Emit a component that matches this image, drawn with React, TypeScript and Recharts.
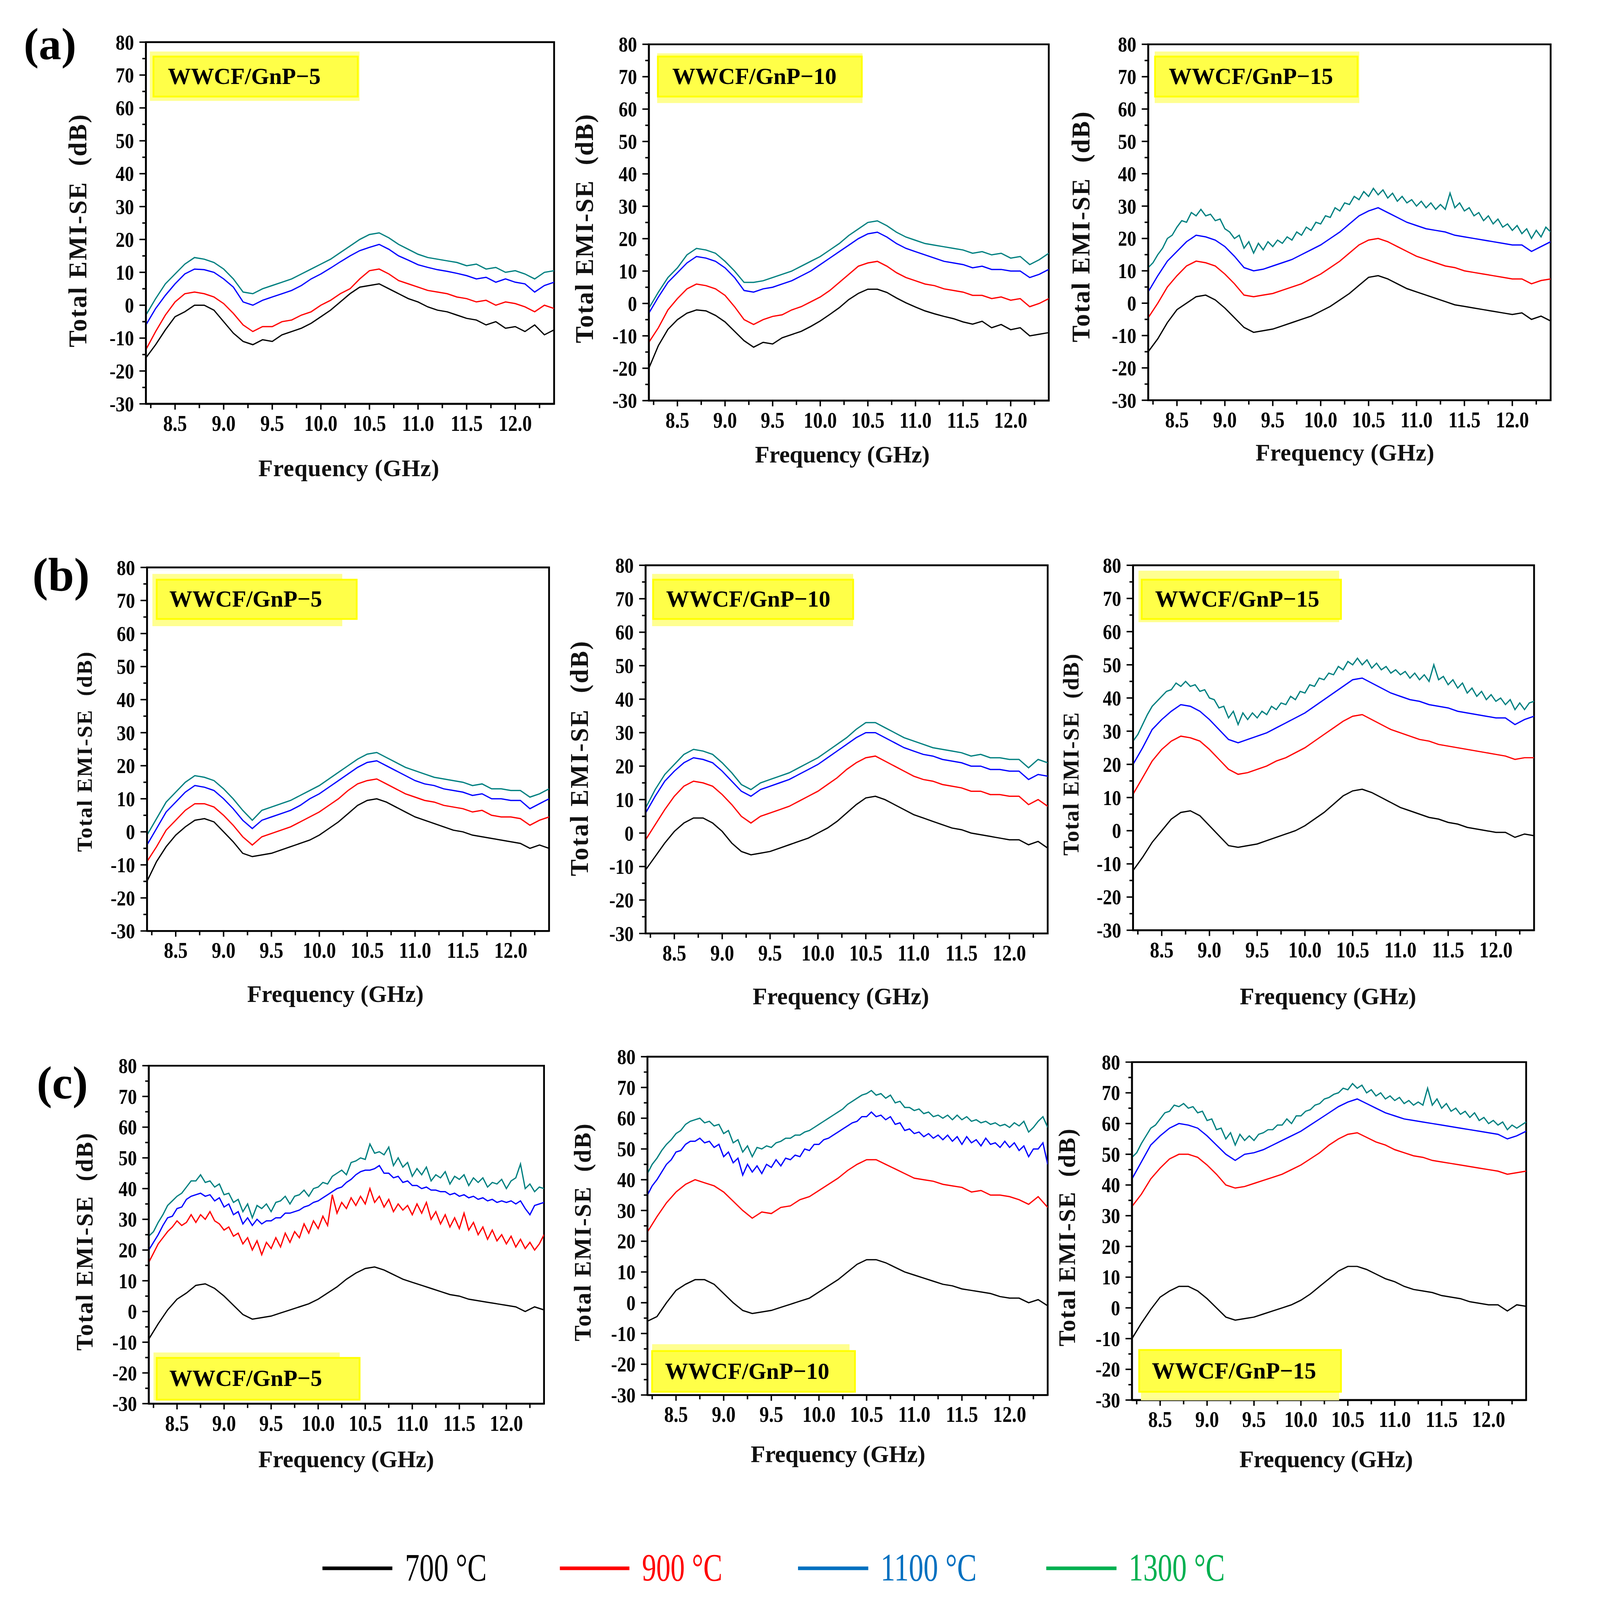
import React from "react";
import { LineChart, Line, XAxis, YAxis, ReferenceArea } from "recharts";

// frequency grids (GHz): coarse for the calm traces, fine for the noisy ones
const freq = [8.2, 8.3, 8.4, 8.5, 8.6, 8.7, 8.8, 8.9, 9.0, 9.1, 9.2, 9.3, 9.4, 9.5, 9.6, 9.7, 9.8, 9.9, 10.0, 10.1, 10.2, 10.3, 10.4, 10.5, 10.6, 10.7, 10.8, 10.9, 11.0, 11.1, 11.2, 11.3, 11.4, 11.5, 11.6, 11.7, 11.8, 11.9, 12.0, 12.1, 12.2, 12.3, 12.4];
const freqFine = [
  8.2, 8.25, 8.3, 8.35, 8.4, 8.45, 8.5, 8.55, 8.6, 8.65,
  8.7, 8.75, 8.8, 8.85, 8.9, 8.95, 9.0, 9.05, 9.1, 9.15,
  9.2, 9.25, 9.3, 9.35, 9.4, 9.45, 9.5, 9.55, 9.6, 9.65,
  9.7, 9.75, 9.8, 9.85, 9.9, 9.95, 10.0, 10.05, 10.1, 10.15,
  10.2, 10.25, 10.3, 10.35, 10.4, 10.45, 10.5, 10.55, 10.6, 10.65,
  10.7, 10.75, 10.8, 10.85, 10.9, 10.95, 11.0, 11.05, 11.1, 11.15,
  11.2, 11.25, 11.3, 11.35, 11.4, 11.45, 11.5, 11.55, 11.6, 11.65,
  11.7, 11.75, 11.8, 11.85, 11.9, 11.95, 12.0, 12.05, 12.1, 12.15,
  12.2, 12.25, 12.3, 12.35, 12.4,
];
const xTicks = [8.25, 8.5, 8.75, 9, 9.25, 9.5, 9.75, 10, 10.25, 10.5, 10.75, 11, 11.25, 11.5, 11.75, 12, 12.25];
const yTicks = [-30, -25, -20, -15, -10, -5, 0, 5, 10, 15, 20, 25, 30, 35, 40, 45, 50, 55, 60, 65, 70, 75, 80];
const seriesNames = ["700 °C", "900 °C", "1100 °C", "1300 °C"];
const sampleNames = ["WWCF/GnP−5", "WWCF/GnP−10", "WWCF/GnP−15"];
const rowLabels = ["(a)", "(b)", "(c)"];

// (a)
const a1_700 = [-16, -12, -7.5, -3.5, -2, 0, 0, -1.5, -5, -8.5, -11, -12, -10.5, -11, -9, -8, -7, -5.5, -3.5, -1.5, 1, 3.5, 5.5, 6, 6.5, 5, 3.5, 2, 1, -0.5, -1.5, -2, -3, -4, -4.5, -6, -5, -7, -6.5, -8, -6, -9, -7.5];
const a1_900 = [-13.5, -8, -3, 1, 3.5, 4, 3.5, 2.5, 0.5, -2.5, -6, -8, -6.5, -6.5, -5, -4.5, -3, -2, 0, 1.5, 3.5, 5, 8, 10.5, 11, 9.5, 7.5, 6.5, 5.5, 4.5, 4, 3.5, 2.5, 2, 1, 1.5, 0, 1, 0.5, -0.5, -2, 0, -1];
const a1_1100 = [-6, -1, 3, 6.5, 9.5, 11, 10.8, 10, 8, 5.5, 1, 0, 1.5, 2.5, 3.5, 4.5, 6, 8, 9.5, 11.3, 13.2, 15, 16.6, 17.6, 18.5, 17, 15, 13.7, 12.3, 11.5, 10.8, 10.3, 9.7, 9, 8, 8.5, 7, 8, 7, 6.5, 4, 6, 7];
const a1_1300 = [-3, 2, 6.5, 9.5, 12.5, 14.5, 14, 13, 11, 8, 4, 3.5, 5, 6, 7, 8, 9.5, 11, 12.5, 14, 16, 18, 20, 21.5, 22, 20.5, 18.5, 17, 15.5, 14.5, 14, 13.5, 13, 12, 12.5, 11, 11.5, 10, 10.5, 9.5, 8, 10, 10.5];

const a2_700 = [-20, -13, -8, -5, -3, -2, -2.3, -3.7, -5.7, -8.6, -11.5, -13.5, -12, -12.5, -10.6, -9.6, -8.6, -7.1, -5.4, -3.4, -1.3, 1.2, 3.1, 4.4, 4.4, 3.4, 1.7, 0.2, -1.1, -2.3, -3.2, -4, -4.7, -5.7, -6.4, -5.5, -7.5, -6.5, -8.1, -7.5, -10, -9.5, -9];
const a2_900 = [-12, -7.5, -2, 1.5, 4.5, 6, 5.5, 4.5, 2.5, -1, -5, -6.5, -5, -4, -3.5, -2, -1, 0.5, 2, 4, 6.5, 9, 11.5, 12.5, 13, 11.5, 9.5, 8, 7, 6, 5.5, 4.5, 4, 3.5, 2.5, 2.5, 1.5, 2, 1, 1.5, -1, 0, 1.5];
const a2_1100 = [-3, 2, 6.5, 9.5, 12.5, 14.5, 14, 13, 11, 8, 4, 3.5, 4.5, 5, 6, 7, 8.5, 10, 12, 14, 16, 18, 20, 21.5, 22, 20.5, 18.5, 17, 16, 15, 14, 13, 12.5, 12, 11, 11.5, 10.5, 10.5, 10, 10, 8, 9, 10.5];
const a2_1300 = [-1.5, 3.5, 8, 11, 15, 17, 16.5, 15.5, 13, 10, 6.5, 6.5, 7, 8, 9, 10, 11.5, 13, 14.5, 16.5, 18.5, 21, 23, 25, 25.5, 24, 22, 20.5, 19.5, 18.5, 18, 17.5, 17, 16.5, 15.5, 16, 15, 15.5, 14, 14.5, 12, 13.5, 15.5];

const a3_700 = [-15, -11, -6, -2, 0, 2, 2.5, 1, -1.5, -4.5, -7.5, -9, -8.5, -8, -7, -6, -5, -4, -2.5, -1, 1, 3, 5.5, 8, 8.5, 7.5, 6, 4.5, 3.5, 2.5, 1.5, 0.5, -0.5, -1, -1.5, -2, -2.5, -3, -3.5, -3, -5, -4, -5.5];
const a3_900 = [-4.5, 0, 5, 8.5, 11.5, 13, 12.5, 11.5, 9, 6, 2.5, 2, 2.5, 3, 4, 5, 6, 7.5, 9, 11, 13, 15.5, 18, 19.5, 20, 19, 17.5, 16, 14.5, 13.5, 12.5, 11.5, 11, 10, 9.5, 9, 8.5, 8, 7.5, 7.5, 6, 7, 7.5];
const a3_1100 = [3.5, 8.5, 13, 16, 19, 21, 20.5, 19.5, 17.5, 14.5, 11, 10, 10.5, 11.5, 12.5, 13.5, 15, 16.5, 18, 20, 22, 24.5, 27, 28.5, 29.5, 28, 26.5, 25, 24, 23, 22.5, 22, 21, 20.5, 20, 19.5, 19, 18.5, 18, 18, 16, 17.5, 19];
const a3_1300 = [
  11, 12.5, 15, 17, 20, 21, 23.5, 25.5, 25, 28,
  27, 29, 27, 27.5, 25.5, 26, 23, 22, 20, 21,
  17, 19, 15.5, 18.5, 16.5, 19, 17.5, 19.5, 18.5, 20.5,
  19.5, 22, 21, 23.5, 22.5, 25, 24.5, 27, 26.5, 29.5,
  28.5, 31, 30.5, 33, 32, 34.5, 33, 35.5, 33.5, 35,
  32.5, 34, 31.5, 33, 31, 32, 30, 31.5, 29.5, 31,
  29, 30.5, 29, 34, 29.5, 31, 28.5, 29.5, 27, 28,
  25.5, 27, 24.5, 26, 23.5, 24.5, 22.5, 24, 21.5, 23,
  20, 22.5, 20.5, 23.5, 22,
];

// (b)
const b1_700 = [-15, -9, -4.5, -1, 1.5, 3.5, 4, 3, 0, -3, -6.5, -7.5, -7, -6.5, -5.5, -4.5, -3.5, -2.5, -1, 1, 3, 5.5, 8, 9.5, 10, 9, 7.5, 6, 4.5, 3.5, 2.5, 1.5, 0.5, 0, -1, -1.5, -2, -2.5, -3, -3.5, -5, -4, -5];
const b1_900 = [-9, -4.5, 0.5, 3.5, 6.5, 8.5, 8.5, 7.5, 5, 2, -1.5, -4, -1.5, -0.5, 0.5, 1.5, 3, 4.5, 6, 8, 10, 12.5, 14.5, 15.5, 16, 14.5, 13, 11.5, 10.5, 9.5, 9, 8, 7.5, 7, 6, 6.5, 5, 4.5, 4.5, 4, 2, 3.5, 4.5];
const b1_1100 = [-4, 1, 6, 9, 12, 14, 13.5, 12.5, 10, 7, 3.5, 1, 3.5, 4.5, 5.5, 6.5, 8, 10, 11.5, 13.5, 15.5, 17.5, 19.5, 21, 21.5, 20, 18.5, 17, 15.5, 14.5, 14, 13, 12.5, 12, 11, 11.5, 10, 10, 9.5, 9.5, 7, 8.5, 10];
const b1_1300 = [-1, 4, 9, 12, 15, 17, 16.5, 15.5, 13, 10, 6.5, 3.5, 6.5, 7.5, 8.5, 9.5, 11, 12.5, 14, 16, 18, 20, 22, 23.5, 24, 22.5, 21, 19.5, 18.5, 17.5, 16.5, 16, 15.5, 15, 14, 14.5, 13, 13, 12.5, 12.5, 10.5, 11.5, 13];

const b2_700 = [-11, -7, -3, 0.5, 3, 4.5, 4.5, 3, 0.5, -3, -5.5, -6.5, -6, -5.5, -4.5, -3.5, -2.5, -1.5, 0, 1.5, 3.5, 6, 8.5, 10.5, 11, 10, 8.5, 7, 5.5, 4.5, 3.5, 2.5, 1.5, 1, 0, -0.5, -1, -1.5, -2, -2, -3.5, -2.5, -4.5];
const b2_900 = [-2, 2.5, 7, 11, 14, 15.5, 15, 14, 11.5, 8.5, 5, 3, 5, 6, 7, 8, 9.5, 11, 12.5, 14.5, 16.5, 19, 21, 22.5, 23, 21.5, 20, 18.5, 17, 16, 15.5, 14.5, 14, 13.5, 12.5, 12.5, 11.5, 11.5, 11, 11, 8.5, 10, 8];
const b2_1100 = [6, 11, 15.5, 18.5, 21, 22.5, 22, 21, 18.5, 15.5, 12.5, 11, 13, 14, 15, 16, 17.5, 19, 20.5, 22.5, 24.5, 26.5, 28.5, 30, 30, 28.5, 27, 25.5, 24.5, 23.5, 23, 22, 21.5, 21, 20, 20, 19, 19, 18.5, 18.5, 16, 17.5, 17];
const b2_1300 = [7.5, 13, 17.5, 20.5, 23.5, 25, 24.5, 23.5, 21, 18, 14.5, 13, 15, 16, 17, 18, 19.5, 21, 22.5, 24.5, 26.5, 28.5, 31, 33, 33, 31.5, 30, 28.5, 27.5, 26.5, 25.5, 25, 24.5, 24, 23, 23.5, 22.5, 22.5, 22, 22, 19.5, 22, 21];

const b3_700 = [-12, -8, -3.5, 0, 3.5, 5.5, 6, 4.5, 1.5, -1.5, -4.5, -5, -4.5, -4, -3, -2, -1, 0, 1.5, 3.5, 5.5, 8, 10.5, 12, 12.5, 11.5, 10, 8.5, 7, 6, 5, 4, 3.5, 2.5, 2, 1, 0.5, 0, -0.5, -0.5, -2, -1, -1.5];
const b3_900 = [11, 16, 21, 24.5, 27, 28.5, 28, 27, 24.5, 21.5, 18.5, 17, 17.5, 18.5, 19.5, 21, 22, 23.5, 25, 27, 29, 31, 33, 34.5, 35, 33.5, 32, 30.5, 29.5, 28.5, 27.5, 27, 26, 25.5, 25, 24.5, 24, 23.5, 23, 22.5, 21.5, 22, 22];
const b3_1100 = [20, 25, 30.5, 33.5, 36, 38, 37.5, 36, 33.5, 30.5, 27.5, 26.5, 27.5, 28.5, 29.5, 31, 32.5, 34, 35.5, 37.5, 39.5, 41.5, 43.5, 45.5, 46, 44.5, 43, 41.5, 40.5, 39.5, 39, 38, 37.5, 37, 36, 35.5, 35, 34.5, 34, 34, 32, 33.5, 34.5];
const b3_1300 = [
  27, 29, 32, 35, 37.5, 39, 40.5, 42, 42.5, 44.5,
  43.5, 45, 43.5, 44, 42, 42.5, 40, 39.5, 37, 37.5,
  34, 36, 32, 35.5, 33.5, 35.5, 34, 36, 35, 37.5,
  36.5, 38.5, 38, 40.5, 39.5, 42, 41.5, 44, 43.5, 46,
  45.5, 47.5, 47, 49.5, 48.5, 51, 50, 52, 50, 51.5,
  49, 50.5, 48.5, 49.5, 47.5, 48.5, 47, 48, 46, 47.5,
  45.5, 47, 45, 50, 45.5, 46.5, 44, 45.5, 43, 44.5,
  41.5, 43, 40.5, 42, 39.5, 41, 39, 40, 38, 39.5,
  36.5, 38.5, 36.5, 38.5, 39,
];

// (c)
const c1_700 = [-9, -4, 0.5, 4, 6, 8.5, 9, 7.5, 5, 2, -1, -2.5, -2, -1.5, -0.5, 0.5, 1.5, 2.5, 4, 6, 8, 10.5, 12.5, 14, 14.5, 13.5, 12, 10.5, 9.5, 8.5, 7.5, 6.5, 5.5, 5, 4, 3.5, 3, 2.5, 2, 1.5, 0, 1.5, 0.5];
const c1_900 = [
  16, 19, 22, 24, 26, 27.5, 29.5, 28, 29, 31.5,
  29, 31.5, 30, 32.5, 29.5, 28.5, 26.5, 27.5, 24.5, 25.5,
  22, 24, 20, 23, 18.5, 22.5, 20.5, 24, 21, 25.5,
  22.5, 26, 24, 28.5, 25.5, 29.5, 27, 31, 28, 38,
  32, 35.5, 33.5, 37, 34.5, 37.5, 35, 40, 35.5, 37.5,
  34, 36.5, 32.5, 35, 33, 34.5, 31.5, 35, 32, 35.5,
  30, 32.5, 28.5, 31.5, 27.5, 30.5, 27, 32, 26.5, 29,
  25, 27.5, 23.5, 26.5, 23, 25, 22, 24.5, 21, 23.5,
  20.5, 22.5, 20, 22, 25,
];
const c1_1100 = [
  20, 22.5, 25, 28, 30.5, 31, 33.5, 34, 36.5, 37.5,
  38, 38.5, 37.5, 38, 36, 37, 34, 35, 31.5, 32.5,
  28.5, 30.5, 28, 30, 28.5, 29.5, 29.5, 30.5, 30.5, 32,
  32, 32.5, 33, 34, 34.5, 35.5, 36, 37, 38, 39,
  40, 40.5, 42, 43, 44.5, 45.5, 46, 46, 46.5, 47.5,
  45, 45, 43.5, 44, 42, 42.5, 41, 41, 40, 40.5,
  39.5, 39.5, 39, 39, 38, 38.5, 37.5, 38, 37, 37.5,
  36.5, 37, 36, 36.5, 35.5, 36, 35.5, 36, 35, 36,
  33.5, 31.5, 34.5, 35, 35.5,
];
const c1_1300 = [
  24.5, 26, 29, 31.5, 34.5, 36, 37.5, 38.5, 40.5, 42.5,
  42.5, 44.5, 42, 42.5, 40.5, 41.5, 38, 38.5, 35.5, 36.5,
  32.5, 35, 30.5, 34.5, 33.5, 35, 32.5, 35.5, 36, 37.5,
  35, 37.5, 38, 39.5, 37.5, 40, 40.5, 42, 41.5, 44,
  45, 46, 44.5, 48.5, 49, 50, 49.5, 54.5, 51.5, 52,
  51, 53.5, 47.5, 50, 47, 48.5, 44, 46.5, 44.5, 47,
  42.5, 44.5, 43.5, 45.5, 41.5, 44, 43, 44.5, 41, 43.5,
  42, 43.5, 40.5, 42, 41.5, 43, 40, 42.5, 43.5, 48,
  40, 41.5, 39, 40.5, 40,
];

const c2_700 = [-6, -4.5, 0, 4, 6, 7.5, 7.5, 6, 3, 0, -2.5, -3.5, -3, -2.5, -1.5, -0.5, 0.5, 1.5, 3.5, 5.5, 7.5, 10, 12.5, 14, 14, 13, 11.5, 10, 9, 8, 7, 6, 5.5, 4.5, 4, 3.5, 3, 2, 1.5, 1.5, 0, 1, -1];
const c2_900 = [23, 28, 32.5, 36, 38.5, 40, 39, 38, 36, 33, 30, 27.5, 29.5, 29, 31, 31.5, 33.5, 34.5, 36.5, 38.5, 40.5, 43, 45, 46.5, 46.5, 45, 43.5, 42, 40.5, 40, 39.5, 38.5, 38, 37.5, 36, 36.5, 35, 35, 34.5, 33.5, 32, 34.5, 31];
const c2_1100 = [
  35, 38, 40, 42.5, 45, 46.5, 49, 49.5, 51.5, 52.5,
  52.5, 53.5, 52, 52.5, 50.5, 51.5, 47.5, 49, 45.5, 47,
  41.5, 45, 42.5, 44.5, 42, 45, 44, 46.5, 44.5, 47,
  46.5, 48, 47.5, 50, 49.5, 51.5, 51.5, 53, 53.5, 54.5,
  55.5, 56.5, 57.5, 58.5, 59, 60.5, 60.5, 62, 60.5, 61,
  59.5, 60.5, 58, 58.5, 56, 56.5, 55, 55.5, 54, 55,
  53.5, 54.5, 53, 54.5, 52.5, 54, 51.5, 54, 52, 53,
  51, 53.5, 51.5, 52, 50.5, 52.5, 50.5, 52, 49.5, 51,
  47.5, 50, 50, 52, 45,
];
const c2_1300 = [
  42, 45, 47, 49.5, 51.5, 53, 55, 56, 58, 59,
  59.5, 60, 58.5, 59, 57.5, 58, 55, 56, 52, 53,
  49, 51, 47.5, 50.5, 50, 51, 50.5, 52, 52.5, 53.5,
  53.5, 54.5, 54.5, 55.5, 56, 57, 58, 59, 60, 61,
  62, 63, 64.5, 65.5, 66.5, 67.5, 68, 69, 67.5, 68,
  66.5, 67.5, 65, 65.5, 63.5, 63.5, 62.5, 63, 61.5, 62,
  60.5, 61, 60, 61, 59.5, 61, 59.5, 60.5, 59, 59.5,
  58.5, 59, 58, 58.5, 57.5, 58, 57, 58.5, 57.5, 59,
  55.5, 57, 59, 60.5, 57,
];

const c3_700 = [-10, -5, -0.5, 3.5, 5.5, 7, 7, 5.5, 3, 0, -3, -4, -3.5, -3, -2, -1, 0, 1, 2.5, 4.5, 7, 9.5, 12, 13.5, 13.5, 12.5, 11, 9.5, 8.5, 7, 6, 5.5, 5, 4, 3.5, 3, 2, 1.5, 1, 1, -1, 1, 0.5];
const c3_900 = [33, 37, 42, 45.5, 48.5, 50, 50, 49, 46.5, 43.5, 40, 39, 39.5, 40.5, 41.5, 42.5, 43.5, 45, 46.5, 48.5, 50.5, 53, 55, 56.5, 57, 55.5, 54, 53, 51.5, 50.5, 49.5, 49, 48, 47.5, 47, 46.5, 46, 45.5, 45, 44.5, 43.5, 44, 44.5];
const c3_1100 = [42, 47.5, 53, 56, 58.5, 60, 59.5, 58.5, 56, 53, 50, 48, 50, 50.5, 51.5, 53, 54.5, 56, 57.5, 59.5, 61.5, 63.5, 65.5, 67, 68, 66.5, 65, 63.5, 62.5, 61.5, 61, 60.5, 60, 59.5, 59, 58.5, 58, 57.5, 57, 56.5, 55, 56, 57.5];
const c3_1300 = [
  49, 50.5, 53.5, 56, 58.5, 59.5, 61.5, 63.5, 64, 66,
  65.5, 66.5, 65, 65.5, 63.5, 64, 61, 61.5, 58, 58.5,
  55, 57, 53, 56.5, 54.5, 56, 54.5, 56.5, 57, 58,
  58, 59.5, 59.5, 61.5, 60, 62.5, 62.5, 64, 64.5, 66,
  66.5, 68, 68.5, 69.5, 70, 71.5, 71, 73, 71.5, 72.5,
  70, 71, 69, 70, 68, 69, 67.5, 68.5, 66.5, 67.5,
  66, 67, 66, 71.5, 66, 68, 65, 66.5, 64, 65,
  63, 64, 62, 63.5, 61, 62, 60, 61, 59.5, 60.5,
  58, 59.5, 58.5, 59.5, 60.5,
];

const lineColors = ["#000000", "#ff0000", "#0000ff", "#008080"];
const legendColors = ["#000000", "#ff0000", "#0070c0", "#00b050"];

const FONT = "'Liberation Serif', 'Times New Roman', serif";
const PAGE_W = 4356;
const PAGE_H = 4441;

// layout of each panel in page pixels
const panels = [
  { series: [a1_700, a1_900, a1_1100, a1_1300], sample: 0, x0: 405, x1: 1538, y0: 117, y1: 1121, yl: [216, 641, 70, 646], xl: [968, 1299, 502], outer: [416, 143, 582, 137], inner: [426, 157, 567, 111], tx: 466, ty: 211 },
  { series: [a2_700, a2_900, a2_1100, a2_1300], sample: 1, x0: 1801, x1: 2911, y0: 123, y1: 1112, yl: [1622, 635, 70, 635], xl: [2338, 1262, 485], outer: [1824, 148, 570, 138], inner: [1826, 157, 566, 111], tx: 1866, ty: 211 },
  { series: [a3_700, a3_900, a3_1100, a3_1300], sample: 2, x0: 3187, x1: 4304, y0: 123, y1: 1111, yl: [3000, 630, 70, 640], xl: [3733, 1256, 496], outer: [3205, 143, 568, 143], inner: [3206, 157, 562, 111], tx: 3244, ty: 211 },
  { series: [b1_700, b1_900, b1_1100, b1_1300], sample: 0, x0: 408, x1: 1524, y0: 1575, y1: 2584, yl: [235, 2087, 60, 555], xl: [931, 2759, 490], outer: [423, 1593, 527, 145], inner: [435, 1609, 555, 109], tx: 470, ty: 1662 },
  { series: [b2_700, b2_900, b2_1100, b2_1300], sample: 1, x0: 1792, x1: 2908, y0: 1569, y1: 2591, yl: [1608, 2106, 70, 652], xl: [2334, 2765, 490], outer: [1810, 1593, 558, 145], inner: [1813, 1609, 555, 109], tx: 1849, ty: 1662 },
  { series: [b3_700, b3_900, b3_1100, b3_1300], sample: 2, x0: 3145, x1: 4258, y0: 1569, y1: 2582, yl: [2972, 2095, 62, 560], xl: [3686, 2765, 490], outer: [3160, 1584, 557, 143], inner: [3169, 1609, 553, 109], tx: 3206, ty: 1662 },
  { series: [c1_700, c1_900, c1_1100, c1_1300], sample: 0, x0: 413, x1: 1510, y0: 2958, y1: 3896, yl: [235, 3447, 66, 604], xl: [961, 4050, 488], outer: [426, 3754, 517, 133], inner: [435, 3769, 563, 116], tx: 470, ty: 3825 },
  { series: [c2_700, c2_900, c2_1100, c2_1300], sample: 1, x0: 1797, x1: 2908, y0: 2933, y1: 3872, yl: [1617, 3421, 66, 604], xl: [2326, 4036, 485], outer: [1810, 3731, 548, 132], inner: [1810, 3750, 563, 113], tx: 1846, ty: 3806 },
  { series: [c3_700, c3_900, c3_1100, c3_1300], sample: 2, x0: 3142, x1: 4236, y0: 2948, y1: 3886, yl: [2962, 3435, 66, 604], xl: [3681, 4050, 482], outer: [3167, 3863, 550, 24], inner: [3162, 3747, 560, 116], tx: 3197, ty: 3805 },
];

const rowLetters = [
  { x: 66, y: 164, size: 125 },
  { x: 90, y: 1639, size: 130 },
  { x: 102, y: 3049, size: 128 },
];

const legendPos = [
  { lx: 895, lw: 194, tx: 1124, tw: 227 },
  { lx: 1554, lw: 193, tx: 1782, tw: 223 },
  { lx: 2215, lw: 195, tx: 2444, tw: 267 },
  { lx: 2904, lw: 195, tx: 3133, tw: 267 },
];

const L = 300;
const T = 40;
const R = 40;
const B = 260;

const XTick = ({ x, payload, axisY }: any) => {
  const v = payload.value;
  const major = Math.abs(v * 2 - Math.round(v * 2)) < 1e-6;
  return (
    <g>
      <line x1={x} x2={x} y1={axisY} y2={axisY + (major ? 16 : 12)} stroke="#000" strokeWidth={4} />
      {major && (
        <text
          transform={`translate(${x},${axisY + 54}) scale(0.85,1)`}
          textAnchor="middle"
          dominantBaseline="central"
          fontSize={62}
          fontWeight="bold"
          fontFamily={FONT}
          fill="#000"
        >
          {v.toFixed(1)}
        </text>
      )}
    </g>
  );
};

const YTick = ({ y, payload }: any) => {
  const v = payload.value;
  const major = v % 10 === 0;
  return (
    <g>
      <line x1={L} x2={L - (major ? 18 : 10)} y1={y} y2={y} stroke="#000" strokeWidth={4} />
      {major && (
        <text
          transform={`translate(${L - 33},${y}) scale(0.85,1)`}
          textAnchor="end"
          dominantBaseline="central"
          fontSize={60}
          fontWeight="bold"
          fontFamily={FONT}
          fill="#000"
        >
          {v}
        </text>
      )}
    </g>
  );
};

const Panel = ({ p }: any) => {
  const pw = p.x1 - p.x0;
  const ph = p.y1 - p.y0;
  const W = pw + L + R;
  const H = ph + T + B;
  const ox = p.x0 - L;
  const oy = p.y0 - T;
  const axisY = T + ph;
  const lines = p.series.map((arr: number[]) => {
    const xs = arr.length === freqFine.length ? freqFine : freq;
    return arr.map((v, i) => ({ f: xs[i], v }));
  });

  return (
    <div style={{ position: "absolute", left: ox, top: oy, width: W, height: H }}>
      <LineChart width={W} height={H} margin={{ top: T, right: R, bottom: 0, left: 0 }}>
        <XAxis
          type="number"
          dataKey="f"
          domain={[8.2, 12.4]}
          ticks={xTicks}
          interval={0}
          height={B}
          allowDataOverflow
          tickLine={false}
          axisLine={{ stroke: "#000", strokeWidth: 5 }}
          tick={(tp: any) => <XTick {...tp} axisY={axisY} />}
          label={() => (
            <text
              x={p.xl[0] - ox}
              y={p.xl[1] - oy}
              textAnchor="middle"
              dominantBaseline="central"
              fontSize={66}
              fontWeight="bold"
              fontFamily={FONT}
              fill="#111"
              textLength={p.xl[2]}
              lengthAdjust="spacing"
            >
              Frequency (GHz)
            </text>
          )}
        />
        <YAxis
          type="number"
          domain={[-30, 80]}
          ticks={yTicks}
          interval={0}
          width={L}
          allowDataOverflow
          tickLine={false}
          axisLine={{ stroke: "#000", strokeWidth: 5 }}
          tick={(tp: any) => <YTick {...tp} />}
          label={() => (
            <text
              transform={`translate(${p.yl[0] - ox},${p.yl[1] - oy}) rotate(-90)`}
              textAnchor="middle"
              dominantBaseline="central"
              fontSize={p.yl[2]}
              fontWeight="bold"
              fontFamily={FONT}
              fill="#111"
              textLength={p.yl[3]}
              lengthAdjust="spacing"
              style={{ whiteSpace: "pre" }}
            >
              Total EMI-SE  (dB)
            </text>
          )}
        />
        <ReferenceArea x1={8.2} x2={12.4} y1={-30} y2={80} fill="none" stroke="#000" strokeWidth={5} ifOverflow="visible" />
        {seriesNames.map((n, k) => (
          <Line
            key={n}
            name={n}
            data={lines[k]}
            dataKey="v"
            type="linear"
            stroke={lineColors[k]}
            strokeWidth={3.5}
            dot={false}
            isAnimationActive={false}
          />
        ))}
      </LineChart>
    </div>
  );
};

export default function App() {
  // fit the whole figure into whatever viewport we get
  const vw = typeof window !== "undefined" ? document.documentElement.clientWidth || window.innerWidth : PAGE_W;
  const vh = typeof window !== "undefined" ? document.documentElement.clientHeight || window.innerHeight : PAGE_H;
  const s = Math.min(1, vw / PAGE_W, vh / PAGE_H);

  return (
    <div style={{ width: PAGE_W * s, height: PAGE_H * s, overflow: "hidden", background: "#fff" }}>
      <style>{"html,body{margin:0;padding:0;overflow:hidden;background:#fff}"}</style>
      <div
        style={{
          position: "relative",
          width: PAGE_W,
          height: PAGE_H,
          background: "#fff",
          transform: `scale(${s})`,
          transformOrigin: "0 0",
        }}
      >
        {panels.map((p, i) => (
          <Panel key={i} p={p} />
        ))}
        <svg width={PAGE_W} height={PAGE_H} style={{ position: "absolute", left: 0, top: 0, pointerEvents: "none" }}>
          {rowLabels.map((t, i) => (
            <text
              key={t}
              x={rowLetters[i].x}
              y={rowLetters[i].y}
              fontSize={rowLetters[i].size}
              fontWeight="bold"
              fontFamily={FONT}
              fill="#000"
            >
              {t}
            </text>
          ))}
          {panels.map((p, i) => (
            <g key={i}>
              <rect x={p.outer[0]} y={p.outer[1]} width={p.outer[2]} height={p.outer[3]} fill="#ffff90" />
              <rect x={p.inner[0]} y={p.inner[1]} width={p.inner[2]} height={p.inner[3]} fill="#ffff48" stroke="#ffff00" strokeWidth={5} />
              <text x={p.tx} y={p.ty} dominantBaseline="central" fontSize={64} fontWeight="bold" fontFamily={FONT} fill="#000">
                {sampleNames[p.sample]}
              </text>
            </g>
          ))}
          {seriesNames.map((n, k) => (
            <g key={n}>
              <line
                x1={legendPos[k].lx}
                x2={legendPos[k].lx + legendPos[k].lw}
                y1={4353}
                y2={4353}
                stroke={legendColors[k]}
                strokeWidth={10}
              />
              <text
                x={legendPos[k].tx}
                y={4387}
                fontSize={109}
                fontFamily={FONT}
                fill={legendColors[k]}
                textLength={legendPos[k].tw}
                lengthAdjust="spacingAndGlyphs"
              >
                {n}
              </text>
            </g>
          ))}
        </svg>
      </div>
    </div>
  );
}
